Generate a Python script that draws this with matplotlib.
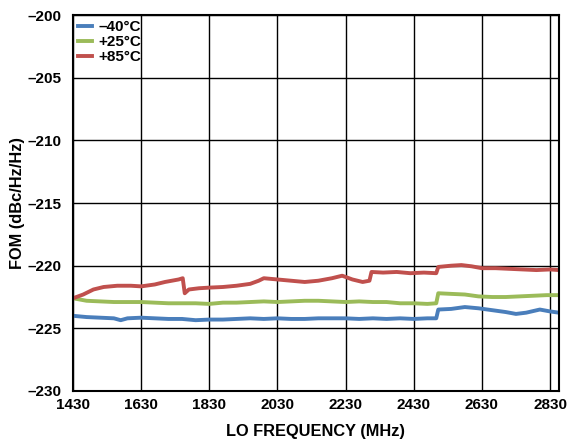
import matplotlib.pyplot as plt

plt.rcParams['font.family'] = ['Liberation Sans', 'DejaVu Sans']
plt.rcParams['font.weight'] = 'bold'

### -40C trace
FREQ_M40 = [1430, 1470, 1510, 1550, 1570, 1590, 1630, 1670, 1710, 1750, 1790, 1830, 1870, 1910,
            1950, 1990, 2030, 2070, 2110, 2150, 2190, 2230, 2270, 2310, 2350, 2390, 2430, 2470,
            2496, 2502, 2540, 2580, 2620, 2660, 2700, 2730, 2760, 2800, 2830, 2856]
FOM_M40 = [-224.0, -224.1, -224.15, -224.2, -224.35, -224.2, -224.15, -224.2, -224.25, -224.25,
           -224.35, -224.3, -224.3, -224.25, -224.2, -224.25, -224.2, -224.25, -224.25, -224.2,
           -224.2, -224.2, -224.25, -224.2, -224.25, -224.2, -224.25, -224.2, -224.2, -223.5,
           -223.45, -223.3, -223.4, -223.55, -223.7, -223.85, -223.75, -223.5, -223.65, -223.75]

### +25C trace
FREQ_P25 = [1430, 1470, 1510, 1550, 1590, 1630, 1670, 1710, 1750, 1790, 1830, 1870, 1910, 1950,
            1990, 2030, 2070, 2110, 2150, 2190, 2230, 2270, 2310, 2350, 2390, 2430, 2470, 2496,
            2502, 2540, 2580, 2620, 2660, 2700, 2740, 2780, 2820, 2856]
FOM_P25 = [-222.6, -222.8, -222.85, -222.9, -222.9, -222.9, -222.95, -223.0, -223.0, -223.0,
           -223.05, -222.95, -222.95, -222.9, -222.85, -222.9, -222.85, -222.8, -222.8, -222.85,
           -222.9, -222.85, -222.9, -222.9, -223.0, -223.0, -223.05, -223.0, -222.2, -222.25,
           -222.3, -222.45, -222.5, -222.5, -222.45, -222.4, -222.35, -222.35]

### +85C trace
FREQ_P85 = [1430, 1460, 1490, 1520, 1560, 1600, 1630, 1670, 1700, 1740, 1752, 1758, 1770, 1800,
            1830, 1870, 1910, 1950, 1975, 1990, 2030, 2070, 2110, 2150, 2190, 2220, 2250, 2280,
            2300, 2306, 2340, 2380, 2420, 2460, 2496, 2502, 2540, 2570, 2600, 2630, 2670, 2710,
            2750, 2790, 2830, 2856]
FOM_P85 = [-222.6, -222.3, -221.9, -221.7, -221.6, -221.6, -221.65, -221.5, -221.3, -221.1,
           -221.0, -222.2, -221.9, -221.8, -221.75, -221.7, -221.6, -221.45, -221.2, -221.0,
           -221.1, -221.2, -221.3, -221.2, -221.0, -220.8, -221.1, -221.3, -221.2, -220.5,
           -220.55, -220.5, -220.6, -220.55, -220.6, -220.1, -220.0, -219.95, -220.05, -220.2,
           -220.2, -220.25, -220.3, -220.35, -220.3, -220.35]

X_TICKS = [1430, 1630, 1830, 2030, 2230, 2430, 2630, 2830]
Y_TICKS = [-230, -225, -220, -215, -210, -205, -200]

fig = plt.figure(figsize=(5.68, 4.44), dpi=100)
ax = fig.add_axes([0.1285, 0.1194, 0.8555, 0.8466])

ax.plot(FREQ_M40, FOM_M40, color='#4a7ebb', lw=2.8, label='\u201340\u00b0C')
ax.plot(FREQ_P25, FOM_P25, color='#9bbb59', lw=2.8, label='+25\u00b0C')
ax.plot(FREQ_P85, FOM_P85, color='#c0504d', lw=2.8, label='+85\u00b0C')

ax.set_xlim(1430, 2856)
ax.set_ylim(-230, -200)
ax.set_xticks(X_TICKS)
ax.set_yticks(Y_TICKS)
ax.set_yticklabels([str(v).replace('-', '\u2013') for v in Y_TICKS])
ax.tick_params(length=0, labelsize=11)
ax.tick_params(axis='y', pad=8)
ax.tick_params(axis='x', pad=5)
ax.grid(True, color='black', lw=1)
ax.set_axisbelow(True)
for s in ax.spines.values():
    s.set_linewidth(1.5)

ax.set_xlabel('LO FREQUENCY (MHz)', fontsize=11.8, fontweight='bold', labelpad=9)
ax.set_ylabel('FOM (dBc/Hz/Hz)', fontsize=11.8, fontweight='bold', labelpad=2)

ax.legend(loc='upper left', frameon=False, fontsize=11, handlelength=0.9,
          handletextpad=0.4, labelspacing=0.05, borderaxespad=0.15, borderpad=0.2)

fig.savefig('out.png', dpi=100)
